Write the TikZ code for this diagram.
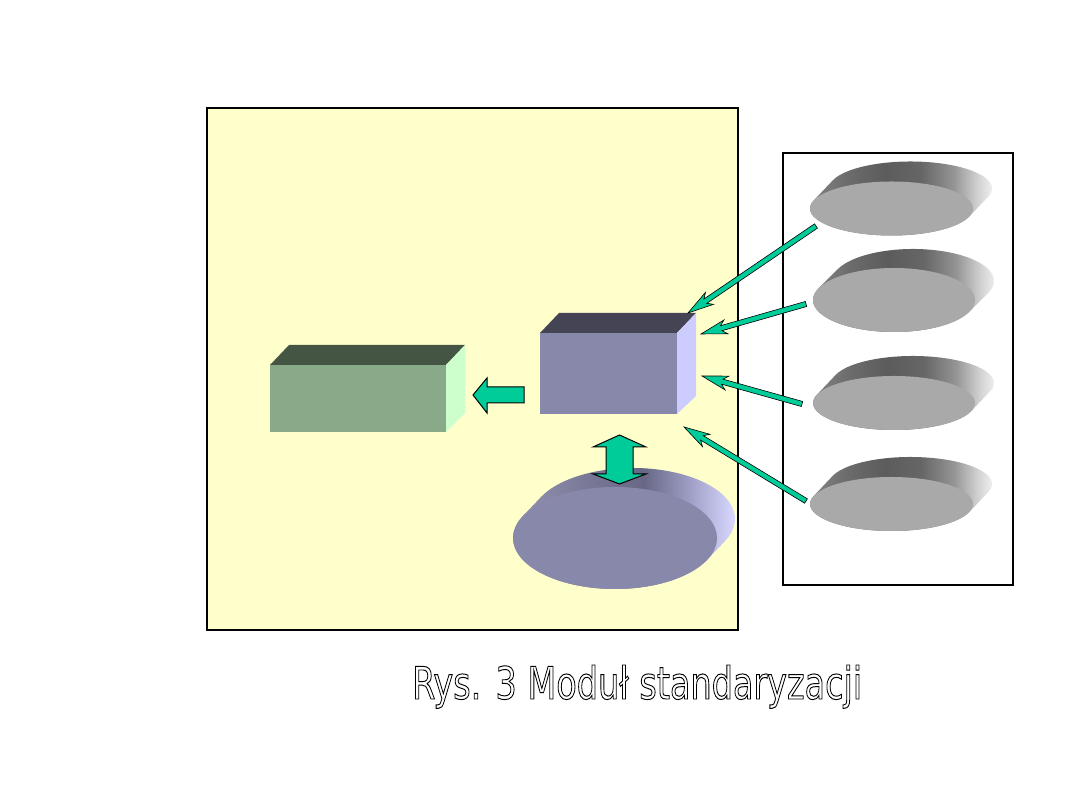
\documentclass[tikz,border=0pt]{standalone}
\usepackage{fontspec}
\usepackage{graphicx}
\newfontfamily\titlefont{DejaVu Sans Condensed}
\usetikzlibrary{calc}
\definecolor{paper}{HTML}{FFFFCC}
\definecolor{greenfront}{HTML}{88AA88}
\definecolor{greentop}{HTML}{445544}
\definecolor{greenside}{HTML}{CCFFCC}
\definecolor{violetfront}{HTML}{8888AA}
\definecolor{violettop}{HTML}{444455}
\definecolor{violetside}{HTML}{CCCCFF}
\definecolor{grayfront}{HTML}{A9A9A9}
\definecolor{arrowgreen}{HTML}{00CC99}
\definecolor{vsA}{HTML}{9A9AB8}
\definecolor{vsB}{HTML}{7A7A98}
\definecolor{vsC}{HTML}{686886}
\definecolor{vsD}{HTML}{A4A4CC}
\definecolor{vsE}{HTML}{D8D8FF}
\pgfdeclarehorizontalshading{grayside}{100bp}{color(0bp)=(black!46); color(25bp)=(black!46); color(37bp)=(black!58); color(46bp)=(black!64); color(55bp)=(black!60); color(63bp)=(black!42); color(69bp)=(black!18); color(74bp)=(black!2); color(100bp)=(black!2)}
\pgfdeclarehorizontalshading{violetside}{100bp}{color(0bp)=(vsA); color(25bp)=(vsA); color(42bp)=(vsB); color(54bp)=(vsC); color(64bp)=(vsD); color(72bp)=(vsE); color(100bp)=(vsE)}
\tikzset{
  frame/.style={draw=black, line width=2.4pt},
  blockarrow/.style={fill=arrowgreen, draw=black, line width=1pt, line join=miter},
  thinarrow/.style={fill=arrowgreen, draw=black, line width=0.6pt, line join=miter},
}
% #1 name, #2 cx, #3 cy, #4 rx, #5 ry, #6 dx, #7 dy, #8 prefix
\newcommand{\cyldisk}[8]{%
  \pgfmathsetmacro\cdB{atan2(-(#6)*(#5),(#7)*(#4))}%
  \pgfmathsetmacro\cdA{\cdB+180}%
  \pgfmathsetmacro\cdC{\cdB-180}%
  \coordinate (#1) at (#2,#3);
  \shade[shading=#8side] ($(#1)+(\cdA:#4pt and #5pt)$) -- ++(#6,#7)
     arc[start angle=\cdA, end angle=\cdB, x radius=#4pt, y radius=#5pt]
     -- ++(-#6,-#7)
     arc[start angle=\cdB, end angle=\cdC, x radius=#4pt, y radius=#5pt] -- cycle;
  \fill[#8front] (#1) ellipse[x radius=#4pt, y radius=#5pt];
}
\newcommand{\slimarrow}[2]{%
  \draw[thinarrow] let \p1=(#1), \p2=(#2), \n1={atan2(\y2-\y1,\x2-\x1)}, \n2={veclen(\x2-\x1,\y2-\y1)} in
    [shift={(\p1)}, rotate=\n1]
    (0pt,-2.6pt) -- ({\n2-21pt},-2.6pt) -- ({\n2-26pt},-7.2pt) -- ({\n2},0pt)
    -- ({\n2-26pt},7.2pt) -- ({\n2-21pt},2.6pt) -- (0pt,2.6pt) -- cycle;}
\begin{document}
\begin{tikzpicture}[x=1pt,y=1pt]
\useasboundingbox (0,0) rectangle (1080,810);
\fill[white] (0,0) rectangle (1080,810);
% frames
\draw[frame, fill=paper] (207,180) rectangle (738,702);
\draw[frame, line width=2pt, fill=white] (783,225) rectangle (1013,657);
% green box
\fill[greenfront] (270,378) rectangle (446,445);
\fill[greentop] (270,445) -- (289,465) -- (465,465) -- (446,445) -- cycle;
\fill[greenside] (446,445) -- (465,465) -- (465,397) -- (446,378) -- cycle;
\coordinate (greenbox) at (358,411);
% violet box
\fill[violetfront] (540,396) rectangle (677,477);
\fill[violettop] (540,477) -- (559,497) -- (696,497) -- (677,477) -- cycle;
\fill[violetside] (677,477) -- (696,497) -- (696,414) -- (677,396) -- cycle;
\coordinate (violetbox) at (608,436);
% violet disk
\cyldisk{vdisk}{615}{272}{102}{51}{18}{19}{violet}
% block arrows
\draw[blockarrow] (524,423) -- (487,423) -- (487,432) -- (473,415) -- (487,397) -- (487,407) -- (524,407) -- cycle;
\draw[blockarrow] (619.5,375) -- (646,363) -- (633,363) -- (633,336) -- (646,336) -- (619.5,326)
   -- (593,336) -- (606,336) -- (606,363) -- (593,363) -- cycle;
% gray disks
\cyldisk{gdiskA}{891.5}{601.5}{81.5}{27}{19}{20}{gray}
\cyldisk{gdiskB}{894}{510}{81}{32}{19}{19}{gray}
\cyldisk{gdiskC}{894}{407}{81}{27}{19}{20}{gray}
\cyldisk{gdiskD}{891.5}{306}{81.5}{27}{19}{20}{gray}
% thin arrows
\coordinate (sA) at (816,584); \coordinate (eA) at (688,497);
\coordinate (sB) at (806,506); \coordinate (eB) at (701,476);
\coordinate (sC) at (802,406); \coordinate (eC) at (702,434);
\coordinate (sD) at (806,309); \coordinate (eD) at (684,383);
\slimarrow{sA}{eA}
\slimarrow{sB}{eB}
\slimarrow{sC}{eC}
\slimarrow{sD}{eD}
% caption
\node[anchor=base west, inner sep=0pt] (caption) at (412,111)
  {\resizebox{450pt}{34pt}{\titlefont\fontsize{37}{40}\selectfont\special{pdf:literal direct 1 Tr 0.8 w}Rys. 3 Moduł standaryzacji\special{pdf:literal direct 0 Tr}}};
\end{tikzpicture}
\end{document}
